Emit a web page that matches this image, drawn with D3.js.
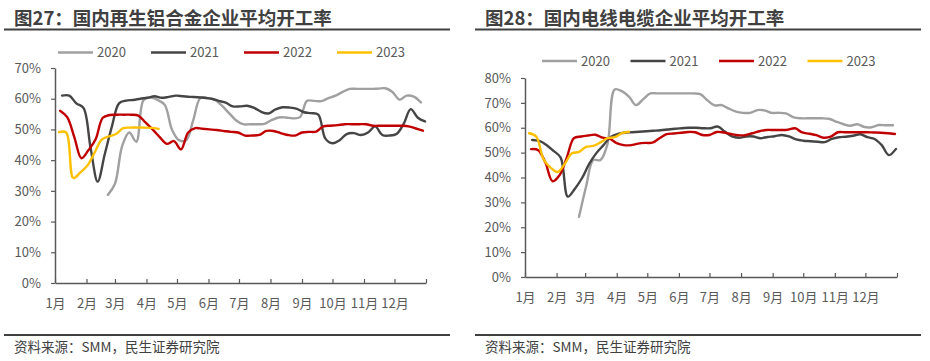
<!DOCTYPE html>
<html lang="zh">
<head>
<meta charset="UTF-8">
<title>国内再生铝合金 / 电线电缆企业平均开工率</title>
<script src="https://d3js.org/d3.v7.min.js"></script>
<style>
  body { margin: 0; background: #fff; }
  svg { display: block; font-family: "Noto Sans CJK SC", "Noto Sans", sans-serif; }
</style>
</head>
<body>
<svg id="chart" width="930" height="361"></svg>
<script>
// ---- data (weekly readings, %) ----
const years = ["2020", "2021", "2022", "2023"];
const months = ["1月", "2月", "3月", "4月", "5月", "6月", "7月", "8月", "9月", "10月", "11月", "12月"];
const monthStartDays = [0, 31, 59, 90, 120, 151, 181, 212, 243, 273, 304, 334, 365];

// 图27 再生铝合金
const alloy2020 = [28.7, 32.3, 44.5, 49, 46, 59.5, 60.4, 59.6, 58, 50, 46.5, 46.5, 53, 60.2, 60.2,
  59.7, 57.8, 55.4, 53, 51.7, 51.7, 51.7, 51.8, 53, 53.9, 53.9, 53.6, 54, 59.3, 59.3, 59.2, 60.2,
  61, 62.2, 63.2, 63.2, 63.2, 63.2, 63.3, 63.4, 62.2, 59.7, 61, 60.7, 58.8];
const alloy2021 = [61, 61, 58.5, 57, 44, 33, 42, 51, 58.5, 59.4, 59.6, 60, 60.3, 60.8, 60.3, 60.6,
  61, 60.8, 60.6, 60.5, 60.3, 60, 59.3, 58.7, 57.5, 57.5, 57.7, 57, 55.7, 55.2, 56.5, 57.2, 57.1,
  56.7, 55.6, 55.3, 54.8, 47, 45.5, 46.5, 48.5, 48.8, 48.2, 49, 51, 48.2, 48, 48.5, 51.8, 56.6,
  53.8, 52.6];
const alloy2022 = [56.1, 54, 47.5, 40.6, 43.3, 46.8, 53.8, 54.7, 54.8, 54.8, 54.8, 54.5, 52.3, 50,
  47.5, 45.3, 46.2, 43.5, 49, 50.4, 50.2, 50, 49.8, 49.5, 49.2, 49, 48, 48, 48.2, 49.5, 49.5, 48.8,
  48.2, 48, 49, 49.2, 49.3, 51, 51.2, 51.4, 51.7, 51.7, 51.7, 51.7, 51.2, 51.2, 51.2, 51.2, 51.2,
  51, 50.3, 49.6];
const alloy2023 = [49.1, 49, 34.2, 36, 38.3, 42.5, 46.7, 47.7, 48.5, 50.4, 50.6, 50.6, 50.6, 50.5, 50.2];
const alloyStartDays = [52, 7, 5, 4];

// 图28 电线电缆
const cable2020 = [24.2, 36.5, 47, 47, 53.6, 75.4, 74.7, 72.5, 69.1, 71.5, 73.8, 73.8, 73.8, 73.8,
  73.8, 73.8, 73.8, 73.5, 71, 69, 69.1, 67.7, 66.5, 66, 66, 67.1, 67, 66, 66, 65.8, 64.3, 63.8, 63.8,
  63.8, 63.8, 63.6, 62.5, 61.5, 60.8, 61.4, 60.3, 60.2, 61.1, 61, 61];
const cable2021 = [55.1, 54.7, 53.1, 50.7, 48, 32.3, 35.5, 39.8, 45.5, 49.8, 53, 56.3, 57.5, 58,
  58.2, 58.4, 58.6, 58.8, 59, 59.3, 59.6, 59.8, 60, 60, 59.8, 59.8, 60.5, 58.5, 56.5, 56, 56.5, 56.5,
  55.8, 56.3, 56.6, 57.1, 56.5, 55.3, 54.8, 54.6, 54.4, 54.2, 55.5, 56.2, 56.4, 56.8, 57.4, 56.2,
  55.5, 53, 49, 51.5];
const cable2022 = [51.4, 51, 46, 38.5, 41, 48, 55.8, 56.5, 56.9, 57.2, 56, 55.6, 53.8, 53, 53, 53.6,
  53.9, 54, 55.8, 57.4, 57.7, 58, 58.3, 58.2, 57.1, 57.1, 58.3, 58.1, 57.5, 57, 57, 57.8, 58.6, 59.1,
  59.1, 59.1, 59.2, 59.8, 58.1, 57.6, 57, 56, 56.4, 58.2, 58.2, 58.2, 58.2, 58.2, 58.1, 58, 57.8, 57.5];
const cable2023 = [57.8, 56.5, 47.5, 44, 42.2, 45.5, 49.7, 50.3, 52.3, 52.7, 54.1, 55.8, 56.2, 57.8, 58.4];
const cableStartDays = [53, 7, 6, 4];

// ---- styles ----
const colors = ["#a0a0a0", "#454545", "#c00000", "#ffc000"];
const textColor = "#595959";
const darkText = "#404040";

const svg = d3.select("#chart");
svg.append("rect").attr("width", 930).attr("height", 361).attr("fill", "#fff");

const panels = [
  {
    title: "图27：国内再生铝合金企业平均开工率",
    series: [alloy2020, alloy2021, alloy2022, alloy2023], starts: alloyStartDays,
    ruleX: [4, 450], titleX: 14,
    plot: { left: 55, right: 426, top: 68, bottom: 283 }, yMax: 70,
    legend: { x: 58, step: 93, y: 52.5 }
  },
  {
    title: "图28：国内电线电缆企业平均开工率",
    series: [cable2020, cable2021, cable2022, cable2023], starts: cableStartDays,
    ruleX: [475, 921], titleX: 485,
    plot: { left: 525, right: 897, top: 78, bottom: 277 }, yMax: 80,
    legend: { x: 542, step: 88.5, y: 61 }
  }
];

panels.forEach(drawPanel);

function drawPanel(p) {
  const g = svg.append("g");

  // title + rules
  g.append("text")
    .attr("x", p.titleX).attr("y", 25)
    .attr("fill", darkText)
    .style("font-size", "18.5px").style("font-weight", "bold")
    .text(p.title);
  g.append("line")
    .attr("x1", p.ruleX[0]).attr("x2", p.ruleX[1]).attr("y1", 29.5).attr("y2", 29.5)
    .attr("stroke", "#404040").attr("stroke-width", 2);
  g.append("line")
    .attr("x1", p.ruleX[0]).attr("x2", p.ruleX[1]).attr("y1", 335).attr("y2", 335)
    .attr("stroke", "#404040").attr("stroke-width", 2);
  g.append("text")
    .attr("x", p.titleX).attr("y", 352)
    .attr("fill", darkText)
    .style("font-size", "13.5px")
    .text("资料来源：SMM，民生证券研究院");

  // scales
  const x = d3.scaleLinear().domain([0, 365]).range([p.plot.left, p.plot.right]);
  const y = d3.scaleLinear().domain([0, p.yMax]).range([p.plot.bottom, p.plot.top]);

  // y axis
  const yAxis = g.append("g")
    .attr("transform", `translate(${p.plot.left},0)`)
    .call(d3.axisLeft(y)
      .tickValues(d3.range(0, p.yMax + 1, 10))
      .tickFormat(d => d + "%")
      .tickSize(4).tickSizeOuter(0).tickPadding(10));
  // x axis (ticks point inward)
  const xAxis = g.append("g")
    .attr("transform", `translate(0,${p.plot.bottom})`)
    .call(d3.axisBottom(x)
      .tickValues(monthStartDays)
      .tickFormat((d, i) => i < months.length ? months[i] : "")
      .tickSizeInner(-4).tickSizeOuter(0).tickPadding(16));

  [yAxis, xAxis].forEach(a => {
    a.select(".domain").attr("stroke", "#595959").attr("stroke-width", 1.5);
    a.selectAll(".tick line").attr("stroke", "#595959").attr("stroke-width", 1.2);
    a.selectAll(".tick text")
      .attr("fill", textColor)
      .style("font-size", "13px")
      .style("font-family", "\"Noto Sans CJK SC\", sans-serif");
  });

  // lines
  const line = d3.line()
    .x(d => x(d[0]))
    .y(d => y(d[1]))
    .curve(d3.curveCatmullRom.alpha(0.5));

  p.series.forEach((vals, i) => {
    const pts = vals.map((v, k) => [p.starts[i] + k * 7, v]);
    g.append("path")
      .datum(pts)
      .attr("fill", "none")
      .attr("stroke", colors[i])
      .attr("stroke-width", 2.4)
      .attr("stroke-linejoin", "round")
      .attr("stroke-linecap", "round")
      .attr("d", line);
  });

  // legend
  const lg = g.append("g");
  years.forEach((yr, i) => {
    const lx = p.legend.x + i * p.legend.step;
    lg.append("line")
      .attr("x1", lx).attr("x2", lx + 35)
      .attr("y1", p.legend.y).attr("y2", p.legend.y)
      .attr("stroke", colors[i]).attr("stroke-width", 2.6);
    lg.append("text")
      .attr("x", lx + 39).attr("y", p.legend.y + 4.5)
      .attr("fill", textColor)
      .style("font-size", "13px")
      .text(yr);
  });
}
</script>
</body>
</html>
